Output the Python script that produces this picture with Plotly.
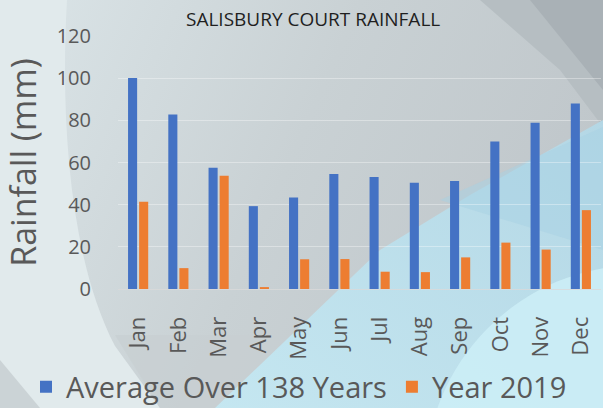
import base64
import plotly.graph_objects as go

months = ["Jan", "Feb", "Mar", "Apr", "May", "Jun", "Jul", "Aug", "Sep", "Oct", "Nov", "Dec"]
avg_138_years = [100.1, 82.8, 57.5, 39.3, 43.4, 54.5, 53.1, 50.4, 51.2, 70.0, 78.8, 88.0]
year_2019 = [41.4, 9.9, 53.7, 0.9, 14.1, 14.2, 8.2, 8.0, 15.0, 22.0, 18.7, 37.4]
y_ticks = [0, 20, 40, 60, 80, 100, 120]

W, H = 603, 408
L, R, T, B = 118, 2, 36, 119
pw, ph = W - L - R, H - T - B

svg = f'''<svg xmlns="http://www.w3.org/2000/svg" width="{W}" height="{H}" viewBox="0 0 {W} {H}" preserveAspectRatio="none">
<defs>
<linearGradient id="g0" x1="0" y1="0" x2="1" y2="0.3">
<stop offset="0" stop-color="#dbe5e8"/><stop offset="0.55" stop-color="#c9d1d4"/><stop offset="1" stop-color="#c0c7cb"/>
</linearGradient>
<linearGradient id="gb" x1="0" y1="1" x2="1" y2="0">
<stop offset="0" stop-color="#c4e9f4"/><stop offset="1" stop-color="#b3d9e8"/>
</linearGradient>
</defs>
<rect width="{W}" height="{H}" fill="url(#g0)"/>
<path d="M0,0 L67,0 C60,120 70,260 115,346 L160,408 L0,408 Z" fill="#e1eaec"/>
<path d="M0,360 L40,408 L0,408 Z" fill="#cbd3d6"/>
<path d="M115,335 L304,335 L215,408 L160,408 Z" fill="#c8cfd2" opacity="0.7"/>
<path d="M480,0 L603,0 L603,127 L560,70 Z" fill="#b6bec2"/>
<path d="M530,0 L603,0 L603,90 Z" fill="#a9b1b6"/>
<path d="M215,408 L380,250 L470,195 L603,120 L603,408 Z" fill="url(#gb)" opacity="0.9"/>
<path d="M440,200 L603,127 L603,250 Z" fill="#a8d2e4" opacity="0.5"/>
<circle cx="640" cy="480" r="215" fill="#cdeef7" opacity="0.85"/>
</svg>'''
bg_uri = "data:image/svg+xml;base64," + base64.b64encode(svg.encode()).decode()

fig = go.Figure()
fig.add_trace(go.Bar(x=months, y=avg_138_years, name="Average Over 138 Years",
                     marker=dict(color="#4472C4", line=dict(width=0))))
fig.add_trace(go.Bar(x=months, y=year_2019, name="Year 2019",
                     marker=dict(color="#ED7D31", line=dict(width=0))))

fig.add_layout_image(dict(source=bg_uri, xref="paper", yref="paper",
                          x=-L / pw, y=1 + T / ph, sizex=W / pw, sizey=H / ph,
                          xanchor="left", yanchor="top", sizing="stretch", layer="below"))

fig.add_annotation(text="SALISBURY COURT RAINFALL", xref="paper", yref="paper",
                   x=(313 - L) / pw, y=1 + (T - 19) / ph, xanchor="center", yanchor="middle",
                   showarrow=False, font=dict(family="Open Sans", size=19, color="#1f1f1f"))

fig.update_layout(
    width=W, height=H,
    margin=dict(l=L, r=R, t=T, b=B, pad=0, autoexpand=False),
    paper_bgcolor="#d3dcdf",
    plot_bgcolor="rgba(0,0,0,0)",
    barmode="group", bargap=0.45, bargroupgap=0.18,
    showlegend=True,
    legend=dict(orientation="h", xref="paper", yref="paper",
                x=(26 - L) / pw, y=(H - B - 387) / ph, xanchor="left", yanchor="middle",
                font=dict(family="Open Sans", size=29, color="#595959"),
                bgcolor="rgba(0,0,0,0)", itemclick=False, itemdoubleclick=False,
                tracegroupgap=0),
    font=dict(family="Open Sans", color="#595959"),
)
fig.update_xaxes(type="category", showgrid=False, showline=True,
                 linecolor="rgba(217,217,217,0.8)", linewidth=1,
                 tickangle=-90, tickfont=dict(family="Open Sans", size=22, color="#595959"),
                 ticks="outside", ticklen=18, tickcolor="rgba(0,0,0,0)")
fig.update_yaxes(range=[0, 120], tickvals=y_ticks, showgrid=True,
                 gridcolor="rgba(255,255,255,0.35)", gridwidth=1,
                 zeroline=False, showline=False,
                 tickfont=dict(family="Open Sans", size=20, color="#595959"),
                 ticks="outside", ticklen=22, tickcolor="rgba(0,0,0,0)",
                 title=dict(text="Rainfall (mm)", standoff=12,
                            font=dict(family="Open Sans", size=34, color="#595959")))

fig.write_html("out.html", config={"displayModeBar": False, "staticPlot": True},
               post_script="document.body.style.margin='0';document.body.style.overflow='hidden';")
